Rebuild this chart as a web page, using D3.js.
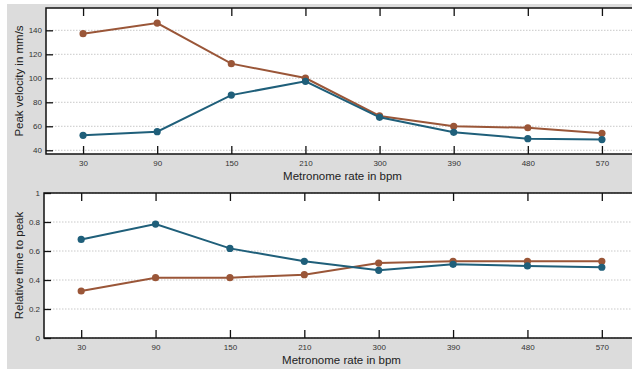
<!DOCTYPE html>
<html lang="en">
    <head>
        <meta charset="utf-8">
        <title>Peak velocity and relative time to peak</title>
        <script src="https://cdn.jsdelivr.net/npm/d3@7/dist/d3.min.js"></script>
        <style type="text/css">
            body { margin: 0; background: #fff; }
            .tick text {
                font-family: "Liberation Sans", Arial, sans-serif;
                font-size: 8px;
                fill: #333;
            }
            .title {
                font-family: "Liberation Sans", Arial, sans-serif;
                font-size: 11.5px;
                fill: #222;
            }
        </style>
    </head>
    <body>
        <script type="text/javascript">

            var rates = ["30", "90", "150", "210", "300", "390", "480", "570"];

            // top panel: peak velocity (mm/s)
            var velBlue  = [52.5, 55.5, 86, 97.5, 67.5, 55, 49.7, 48.9];
            var velBrown = [137.2, 146, 112.2, 100.2, 68.6, 60, 58.8, 54.2];
            var velTicks = [40, 60, 80, 100, 120, 140];

            // bottom panel: relative time to peak
            var relBlue  = [0.68, 0.786, 0.618, 0.529, 0.467, 0.508, 0.497, 0.488];
            var relBrown = [0.324, 0.416, 0.416, 0.437, 0.517, 0.529, 0.529, 0.529];
            var relTicks = [0, 0.2, 0.4, 0.6, 0.8, 1];

            var w = 632, h = 369;
            var blue = "#1f5f7a", brown = "#9a5638";

            var svg = d3.select("body")
                .append("svg")
                .attr("width", w)
                .attr("height", h);

            svg.append("rect")
                .attr("x", 7).attr("y", 4)
                .attr("width", w - 7).attr("height", h - 4)
                .attr("fill", "#dcdcdc");

            function panel(opt) {
                var left = opt.left, top = opt.top, right = 639, bottom = opt.bottom;
                var g = svg.append("g");

                var xScale = d3.scalePoint()
                    .domain(rates)
                    .range([left, right])
                    .padding(0.5);
                var yScale = d3.scaleLinear()
                    .domain(opt.domain)
                    .range([bottom, top]);

                g.append("rect")
                    .attr("x", left).attr("y", top)
                    .attr("width", right - left).attr("height", bottom - top)
                    .attr("fill", "#fff");

                // dotted grid
                g.selectAll(".grid")
                    .data(opt.ticks)
                    .enter()
                    .append("line")
                    .attr("x1", left).attr("x2", right)
                    .attr("y1", function(d){ return yScale(d); })
                    .attr("y2", function(d){ return yScale(d); })
                    .attr("stroke", "#bbb")
                    .attr("stroke-width", 0.8)
                    .attr("stroke-dasharray", "1.5,1.5");

                var yAxis = d3.axisLeft(yScale)
                    .tickValues(opt.ticks)
                    .tickSize(-7)
                    .tickPadding(opt.ypad)
                    .tickFormat(d3.format("~g"));
                var yAxisR = d3.axisRight(yScale)
                    .tickValues(opt.ticks)
                    .tickSize(-7)
                    .tickFormat("");
                var xAxis = d3.axisBottom(xScale)
                    .tickSize(-8)
                    .tickPadding(6);
                var xAxisT = d3.axisTop(xScale)
                    .tickSize(-8)
                    .tickFormat("");

                [[yAxis, "translate(" + left + ",0)"],
                 [yAxisR, "translate(" + right + ",0)"],
                 [xAxis, "translate(0," + bottom + ")"],
                 [xAxisT, "translate(0," + top + ")"]].forEach(function(a) {
                    var ax = g.append("g")
                        .attr("transform", a[1])
                        .call(a[0]);
                    ax.select(".domain").remove();
                    ax.selectAll(".tick line")
                        .attr("stroke", "#111")
                        .attr("stroke-width", 1.3);
                });

                g.append("rect")
                    .attr("x", left).attr("y", top)
                    .attr("width", right - left).attr("height", bottom - top)
                    .attr("fill", "none")
                    .attr("stroke", "#111")
                    .attr("stroke-width", 1.5);

                var line = d3.line()
                    .x(function(d, i){ return xScale(rates[i]); })
                    .y(function(d){ return yScale(d); });

                [[opt.brown, brown], [opt.blue, blue]].forEach(function(s) {
                    g.append("path")
                        .datum(s[0])
                        .attr("d", line)
                        .attr("fill", "none")
                        .attr("stroke", s[1])
                        .attr("stroke-width", 2);
                    g.selectAll(null)
                        .data(s[0])
                        .enter()
                        .append("circle")
                        .attr("cx", function(d, i){ return xScale(rates[i]); })
                        .attr("cy", function(d){ return yScale(d); })
                        .attr("r", 3.6)
                        .attr("fill", s[1]);
                });

                g.append("text")
                    .attr("class", "title")
                    .attr("x", (left + right) / 2)
                    .attr("y", bottom + 26)
                    .attr("text-anchor", "middle")
                    .text("Metronome rate in bpm");
                g.append("text")
                    .attr("class", "title")
                    .attr("transform", "translate(23," + ((top + bottom) / 2) + ") rotate(-90)")
                    .attr("text-anchor", "middle")
                    .text(opt.ylabel);
            }

            panel({left: 46, top: 8, bottom: 154, domain: [36.9, 158.6], ticks: velTicks, ypad: 4,
                   blue: velBlue, brown: velBrown, ylabel: "Peak velocity in mm/s"});
            panel({left: 44, top: 193, bottom: 338, domain: [0, 1], ticks: relTicks, ypad: 4,
                   blue: relBlue, brown: relBrown, ylabel: "Relative time to peak"});

        </script>
    </body>
</html>
